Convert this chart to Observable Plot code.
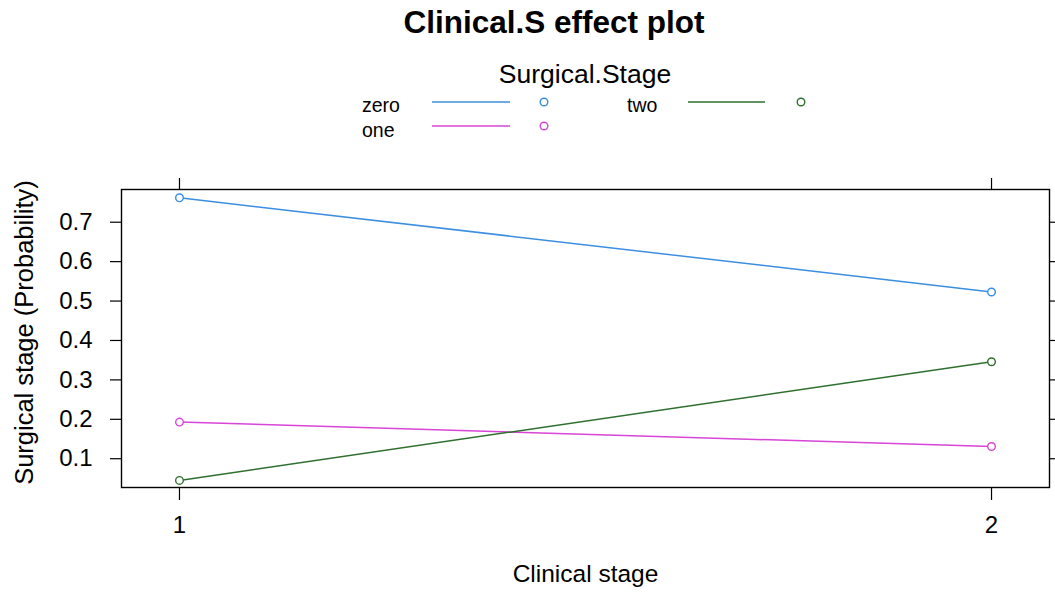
<!DOCTYPE html>
<html>
<head>
<meta charset="utf-8">
<script src="https://cdn.jsdelivr.net/npm/d3@7"></script>
<script src="https://cdn.jsdelivr.net/npm/@observablehq/plot@0.6"></script>
<style>
  html, body { margin: 0; padding: 0; background: #ffffff; }
  #chart { position: relative; width: 1055px; height: 593px; overflow: hidden; }
  #chart > svg.overlay { position: absolute; left: 0; top: 0; pointer-events: none; }
</style>
</head>
<body>
<div id="chart"></div>
<script>
// Predicted probabilities of surgical stage by clinical stage
const clinicalStages = [1, 2];
const stageLevels = ["zero", "one", "two"];
const probZero = [0.762, 0.523];
const probOne = [0.193, 0.131];
const probTwo = [0.045, 0.346];
const yTicks = [0.1, 0.2, 0.3, 0.4, 0.5, 0.6, 0.7];

const levelColors = ["#3b8ee0", "#d845d8", "#2f6f2f"];
const font = "'Liberation Sans', Arial, sans-serif";

const seriesValues = {zero: probZero, one: probOne, two: probTwo};
const rows = stageLevels.flatMap(level =>
  clinicalStages.map((stage, i) => ({stage, level, prob: seriesValues[level][i]}))
);

const W = 1055, H = 593;
const chart = Plot.plot({
  width: W,
  height: H,
  marginTop: 189,
  marginRight: 6,
  marginBottom: 106,
  marginLeft: 121,
  style: {fontFamily: font, background: "white", color: "black"},
  x: {domain: [0.9286, 2.0714], label: null},
  y: {domain: [0.027, 0.783], label: null},
  color: {domain: stageLevels, range: levelColors},
  marks: [
    Plot.line(rows, {x: "stage", y: "prob", z: "level", stroke: "level", strokeWidth: 1.5}),
    Plot.dot(rows, {x: "stage", y: "prob", stroke: "level", r: 3.8, strokeWidth: 1.4, fill: "white"}),
    Plot.frame({stroke: "black", strokeWidth: 1.4}),
    Plot.axisY(yTicks, {anchor: "left", tickSize: 11, tickPadding: 18, fontSize: 24, tickFormat: d => d.toFixed(1), strokeWidth: 1.2, label: null}),
    Plot.axisY(yTicks, {anchor: "right", tickSize: 11, tickFormat: () => "", strokeWidth: 1.2, label: null}),
    Plot.axisX(clinicalStages, {anchor: "bottom", tickSize: 13, tickPadding: 15, fontSize: 24, tickFormat: d => String(d), strokeWidth: 1.2, label: null}),
    Plot.axisX(clinicalStages, {anchor: "top", tickSize: 12, tickFormat: () => "", strokeWidth: 1.2, label: null}),
    Plot.text(["Clinical stage"], {frameAnchor: "bottom", textAnchor: "middle", dy: 87, lineAnchor: "middle", fontSize: 24.5, fill: "black"}),
    Plot.text(["Surgical stage (Probability)"], {frameAnchor: "left", textAnchor: "middle", dx: -97, dy: -6, rotate: -90, lineAnchor: "middle", fontSize: 25.5, fill: "black"})
  ]
});

const container = document.getElementById("chart");
container.appendChild(chart);

// Title and key drawn on top of the plot area
const overlay = d3.create("svg")
  .attr("class", "overlay")
  .attr("width", W)
  .attr("height", 150)
  .style("font-family", font);

overlay.append("text")
  .attr("x", 554).attr("y", 33)
  .attr("text-anchor", "middle")
  .attr("font-size", 31.5)
  .attr("font-weight", "bold")
  .attr("fill", "black")
  .text("Clinical.S effect plot");

overlay.append("text")
  .attr("x", 585).attr("y", 83)
  .attr("text-anchor", "middle")
  .attr("font-size", 26.5)
  .attr("fill", "black")
  .text("Surgical.Stage");

const keyLayout = [
  {label: "zero", tx: 362, base: 112, x1: 432, x2: 510, ly: 102, cx: 544},
  {label: "one", tx: 362, base: 137, x1: 432, x2: 510, ly: 126, cx: 544},
  {label: "two", tx: 627, base: 112, x1: 688, x2: 765, ly: 102, cx: 801}
];

keyLayout.forEach(k => {
  const col = levelColors[stageLevels.indexOf(k.label)];
  overlay.append("text")
    .attr("x", k.tx).attr("y", k.base)
    .attr("font-size", 19.5)
    .attr("fill", "black")
    .text(k.label);
  overlay.append("line")
    .attr("x1", k.x1).attr("x2", k.x2)
    .attr("y1", k.ly).attr("y2", k.ly)
    .attr("stroke", col).attr("stroke-width", 1.5);
  overlay.append("circle")
    .attr("cx", k.cx).attr("cy", k.ly)
    .attr("r", 3.8)
    .attr("fill", "white")
    .attr("stroke", col).attr("stroke-width", 1.4);
});

container.appendChild(overlay.node());
</script>
</body>
</html>
